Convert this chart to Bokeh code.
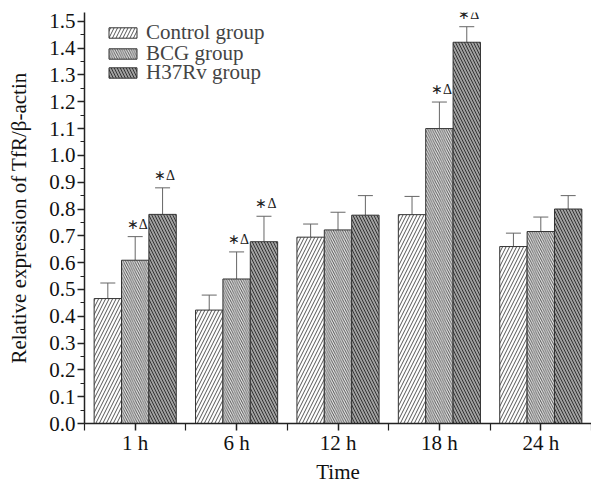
import numpy as np
from bokeh.plotting import figure
from bokeh.models import (ColumnDataSource, FixedTicker, PrintfTickFormatter, Range1d,
                          Whisker, TeeHead, Legend, LegendItem, LabelSet)
from bokeh.embed import file_html
from bokeh.resources import INLINE

# ---- data ----
times = ["1 h", "6 h", "12 h", "18 h", "24 h"]
control = [0.466, 0.423, 0.695, 0.779, 0.660]
control_err = [0.058, 0.056, 0.049, 0.068, 0.050]
bcg = [0.609, 0.539, 0.722, 1.100, 0.716]
bcg_err = [0.088, 0.101, 0.066, 0.099, 0.054]
h37rv = [0.780, 0.678, 0.777, 1.422, 0.800]
h37rv_err = [0.099, 0.095, 0.073, 0.058, 0.050]
bcg_sig = [True, True, False, True, False]
h37rv_sig = [True, True, False, True, False]
y_ticks = [round(0.1 * i, 1) for i in range(16)]

FONT = "Liberation Serif"
FS = "21px"
idx = np.arange(1, len(times) + 1)
bw = 0.27

p = figure(width=591, height=486, output_backend="svg", toolbar_location=None,
           x_range=Range1d(0.5, 5.5), y_range=Range1d(0, 1.533),
           min_border_left=84, min_border_right=0, min_border_top=12, min_border_bottom=63)
p.grid.visible = False
p.outline_line_color = None
p.background_fill_color = "white"

series = [
    ("Control group", control, control_err, None, -bw,
     dict(fill_color="white", hatch_pattern="/", hatch_scale=7, hatch_color="#555555", hatch_weight=1)),
    ("BCG group", bcg, bcg_err, bcg_sig, 0.0,
     dict(fill_color="#ebebeb", hatch_pattern="\\", hatch_scale=4.6, hatch_color="#5a5a5a", hatch_weight=1)),
    ("H37Rv group", h37rv, h37rv_err, h37rv_sig, bw,
     dict(fill_color="#a0a0a0", hatch_pattern="\\", hatch_scale=6, hatch_color="#333333", hatch_weight=1)),
]

legend_y = [378, 357, 338]

for k, (name, vals, errs, sig, off, style) in enumerate(series):
    xs = idx + off
    tops = [v + e for v, e in zip(vals, errs)]
    src = ColumnDataSource(dict(x=xs, top=vals, upper=tops))
    w = Whisker(base="x", lower="top", upper="upper", source=src, dimension="height",
                line_color="#666666", line_width=1,
                upper_head=TeeHead(size=15, line_color="#666666", line_width=1),
                lower_head=None)
    p.add_layout(w)
    r = p.vbar(x="x", top="top", width=bw, bottom=0, source=src,
               line_color="#333333", line_width=1, **style)
    lg = Legend(items=[LegendItem(label=name, renderers=[r])], location=(21, legend_y[k]),
                glyph_width=35, glyph_height=13, label_standoff=6, spacing=0, padding=0, margin=0,
                label_text_font=FONT, label_text_font_size=FS,
                background_fill_alpha=0, border_line_color=None)
    p.add_layout(lg)
    if sig is not None:
        sx = [x for x, s in zip(xs, sig) if s]
        sy = [t for t, s in zip(tops, sig) if s]
        ssrc = ColumnDataSource(dict(x=sx, y=sy, t=["\u2217\u0394"] * len(sx)))
        p.add_layout(LabelSet(x="x", y="y", text="t", source=ssrc, text_align="center",
                              text_baseline="bottom", text_font=FONT, text_font_size="14px",
                              text_color="#222222", x_offset=2, y_offset=5))

# axes
p.xaxis.ticker = FixedTicker(ticks=list(idx), minor_ticks=list(idx - 0.5) + [idx[-1] + 0.5])
p.xaxis.major_label_overrides = {int(i): t for i, t in zip(idx, times)}
p.yaxis.ticker = FixedTicker(ticks=y_ticks, minor_ticks=[round(0.05 + 0.1 * i, 2) for i in range(15)])
p.yaxis.formatter = PrintfTickFormatter(format="%.1f")

for ax in (p.xaxis[0], p.yaxis[0]):
    ax.axis_line_width = 1.5
    ax.axis_line_color = "#222222"
    ax.major_tick_line_color = "#222222"
    ax.minor_tick_line_color = "#222222"
    ax.major_tick_line_width = 1.5
    ax.minor_tick_line_width = 1.2
    ax.major_tick_in = 0
    ax.minor_tick_in = 0
    ax.major_label_text_font = FONT
    ax.major_label_text_font_size = FS
    ax.major_label_text_color = "#111111"
    ax.axis_label_text_font = FONT
    ax.axis_label_text_font_size = FS
    ax.axis_label_text_font_style = "normal"
    ax.axis_label_text_color = "#111111"

p.xaxis.major_tick_out = 7
p.xaxis.minor_tick_out = 7
p.xaxis.major_label_standoff = 0
p.xaxis.axis_label = "Time"
p.xaxis.axis_label_standoff = 2

p.yaxis.major_tick_out = 7
p.yaxis.minor_tick_out = 4
p.yaxis.major_label_standoff = 2
p.yaxis.axis_label = "Relative expression of TfR/\u03b2-actin"
p.yaxis.axis_label_standoff = 15

open("out.html", "w").write(file_html(p, INLINE))
